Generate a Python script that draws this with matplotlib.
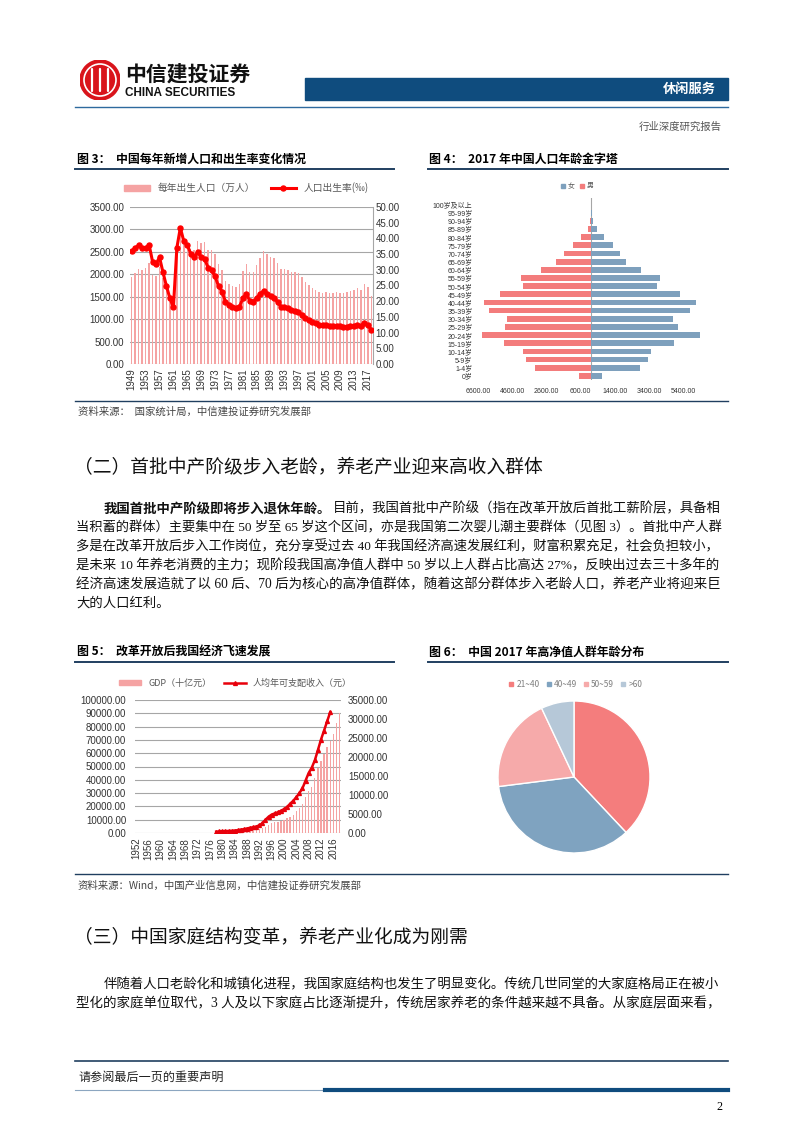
import numpy as np
import matplotlib
matplotlib.use('Agg')
import matplotlib.pyplot as plt
from matplotlib.patches import Rectangle, Circle, Patch
from matplotlib.lines import Line2D

W, H = 802, 1133
SANS = ['Noto Sans CJK SC', 'DejaVu Sans']
BODY = ['Liberation Serif', 'Noto Sans CJK SC', 'DejaVu Sans']
TICK = ['Liberation Sans', 'Noto Sans CJK SC', 'DejaVu Sans']
plt.rcParams['font.family'] = SANS
plt.rcParams['axes.unicode_minus'] = False

# Fig 3: births per year (万人) and birth rate (‰)
birth_years = list(range(1949, 2019))
births = [1950, 2023, 2107, 2105, 2151, 2245, 1984, 1961, 2167, 1908,
          1650, 1392, 1190, 2451, 2934, 2721, 2679, 2554, 2543, 2731,
          2690, 2710, 2551, 2550, 2447, 2226, 2102, 1849, 1783, 1733,
          1715, 1776, 2064, 2230, 2052, 2050, 2196, 2374, 2508, 2445,
          2396, 2374, 2250, 2113, 2120, 2098, 2052, 2057, 2028, 1934,
          1827, 1765, 1696, 1641, 1594, 1588, 1612, 1581, 1591, 1604,
          1587, 1588, 1600, 1635, 1640, 1687, 1655, 1786, 1723, 1523]
birth_rate = [36.0, 37.0, 37.8, 37.0, 37.0, 38.0, 32.6, 31.9, 34.0, 29.2,
              24.8, 20.9, 18.0, 37.0, 43.4, 39.1, 37.9, 35.1, 34.0, 35.6,
              34.1, 33.4, 30.7, 29.8, 27.9, 24.8, 23.0, 19.9, 18.9, 18.3,
              17.8, 18.2, 20.9, 22.3, 20.2, 19.9, 21.0, 22.4, 23.3, 22.4,
              21.6, 21.1, 19.7, 18.2, 18.1, 17.7, 17.1, 17.0, 16.6, 15.6,
              14.6, 14.0, 13.4, 12.9, 12.4, 12.3, 12.4, 12.1, 12.1, 12.1,
              12.0, 11.9, 11.9, 12.1, 12.1, 12.4, 12.1, 13.0, 12.4, 10.9]

# Fig 4: 2017 population pyramid, top to bottom
age_groups = ['100岁及以上', '95-99岁', '90-94岁', '85-89岁', '80-84岁', '75-79岁',
              '70-74岁', '65-69岁', '60-64岁', '55-59岁', '50-54岁', '45-49岁',
              '40-44岁', '35-39岁', '30-34岁', '25-29岁', '20-24岁', '15-19岁',
              '10-14岁', '5-9岁', '1-4岁', '0岁']
male = [10, 20, 70, 170, 560, 1040, 1570, 2020, 2900, 4070, 3970,
        5290, 6270, 5960, 4880, 5000, 6350, 5100, 3970, 3810, 3290, 690]
female = [10, 50, 110, 360, 770, 1260, 1690, 2040, 2920, 4030, 3830,
          5200, 6130, 5780, 4810, 5060, 6370, 4830, 3500, 3310, 2860, 670]
pyr_ticks = [-6600, -4600, -2600, -600, 1400, 3400, 5400]

# Fig 5: GDP (十亿元) and urban disposable income per capita (元)
gdp_years = list(range(1952, 2019))
gdp = [67.9, 82.4, 85.9, 91.0, 102.8, 106.8, 130.7, 143.9, 145.7, 122.0,
       114.9, 123.3, 145.4, 171.6, 186.8, 177.4, 172.3, 193.8, 225.3, 242.6,
       251.8, 272.1, 279.0, 299.7, 294.4, 320.2, 367.9, 410.0, 458.8, 493.6,
       537.3, 602.0, 727.9, 901.6, 1027.5, 1205.9, 1504.3, 1699.2, 1887.3, 2200.6,
       2719.5, 3567.3, 4863.8, 6133.9, 7181.4, 7971.5, 8519.5, 9056.4, 10028.0, 11086.3,
       12171.7, 13742.2, 16184.0, 18731.9, 21943.8, 27023.2, 31951.5, 34908.1, 41303.0, 48930.1,
       54036.7, 59524.4, 64397.4, 68905.2, 74358.6, 82712.2, 90030.9]
income_years = list(range(1978, 2016))
income = [343.4, 405.0, 477.6, 500.4, 535.3, 564.6, 652.1, 739.1, 900.9, 1002.1,
          1180.2, 1373.9, 1510.2, 1700.6, 2026.6, 2577.4, 3496.2, 4283.0, 4838.9, 5160.3,
          5425.1, 5854.0, 6280.0, 6859.6, 7702.8, 8472.2, 9421.6, 10493.0, 11759.5, 13785.8,
          15780.8, 17174.7, 19109.4, 21809.8, 24564.7, 26955.1, 29381.0, 31790.3]

# Fig 6: age split of high net worth individuals (%)
pie_labels = ['21~40', '40~49', '50~59', '>60']
pie_shares = [38, 35, 20, 7]
pie_colors = ['#f47d7d', '#7fa3c0', '#f6aaaa', '#b6c8d8']

para2 = [
    [('我国首批中产阶级即将步入退休年龄。', 'bold'),
     ('目前，我国首批中产阶级（指在改革开放后首批工薪阶层，具备相', 'normal')],
    [('当积蓄的群体）主要集中在 50 岁至 65 岁这个区间，亦是我国第二次婴儿潮主要群体（见图 3）。首批中产人群', 'normal')],
    [('多是在改革开放后步入工作岗位，充分享受过去 40 年我国经济高速发展红利，财富积累充足，社会负担较小，', 'normal')],
    [('是未来 10 年养老消费的主力；现阶段我国高净值人群中 50 岁以上人群占比高达 27%，反映出过去三十多年的', 'normal')],
    [('经济高速发展造就了以 60 后、70 后为核心的高净值群体，随着这部分群体步入老龄人口，养老产业将迎来巨', 'normal')],
    [('大的人口红利。', 'normal')],
]
para3 = [
    [('伴随着人口老龄化和城镇化进程，我国家庭结构也发生了明显变化。传统几世同堂的大家庭格局正在被小', 'normal')],
    [('型化的家庭单位取代，3 人及以下家庭占比逐渐提升，传统居家养老的条件越来越不具备。从家庭层面来看，', 'normal')],
]

NAVY = '#0f4c7e'
LINE = '#203f60'
GRID = '#a6a6a6'

fig = plt.figure(figsize=(W / 100, H / 100), dpi=100)
fig.patch.set_facecolor('white')
renderer = fig.canvas.get_renderer()


def px_axes(x0, y0, x1, y1):
    return fig.add_axes([x0 / W, 1 - y1 / H, (x1 - x0) / W, (y1 - y0) / H])


def ptext(x, y, s, **kw):
    kw.setdefault('va', 'center')
    return fig.text(x / W, 1 - y / H, s, **kw)


def hline(x0, x1, y, color=LINE, lw=1.0):
    fig.add_artist(Line2D([x0 / W, x1 / W], [1 - y / H] * 2, color=color, lw=lw))


def fit_line(parts, x0, x1, y, size, justify=True):
    # draw one line of body text, stretched to the column width
    texts = [ptext(x0, y, s, fontsize=size, fontweight=wt, family=BODY, color='#111111')
             for s, wt in parts]
    widths = [t.get_window_extent(renderer).width for t in texts]
    k = (x1 - x0) / sum(widths) if justify else 1.0
    x = x0
    for t, w in zip(texts, widths):
        t.set_fontsize(size * k)
        t.set_x(x / W)
        x += w * k


def style_ax(ax, labelsize=7):
    for s in ax.spines.values():
        s.set_visible(False)
    ax.tick_params(length=0, labelsize=labelsize, colors='#333333')
    for lab in ax.get_xticklabels() + ax.get_yticklabels():
        lab.set_family(TICK)


# ---- page header ----
logo = px_axes(80, 60, 120, 100)
logo.set_xlim(-1, 1)
logo.set_ylim(-1, 1)
logo.set_aspect('equal')
logo.axis('off')
logo.add_patch(Circle((0, 0), 1, color='#d9141b'))
logo.add_patch(Circle((0, 0), 0.8, fill=False, ec='white', lw=1.2))
for xs in (-0.4, 0, 0.4):
    logo.plot([xs, xs], [-0.55, 0.55], color='white', lw=1.6, solid_capstyle='round')

ptext(125, 74, '中信建投证券', fontsize=15, fontweight='bold', color='#111111')
ptext(125, 93, 'CHINA SECURITIES', fontsize=8.5, fontweight='bold', family=TICK, color='#111111')
fig.add_artist(Rectangle((305 / W, 1 - 100 / H), 423 / W, 22 / H, color=NAVY,
                         transform=fig.transFigure))
ptext(716, 89, '休闲服务', color='white', fontsize=9.5, fontweight='bold', ha='right')
hline(75, 728, 107, color='#2e6a9e', lw=1)
ptext(722, 127, '行业深度研究报告', fontsize=7.5, color='#555555', ha='right')

# ---- figure titles ----
ptext(77, 159, '图 3：  中国每年新增人口和出生率变化情况', fontsize=8.6, fontweight='bold')
ptext(429, 159, '图 4：  2017 年中国人口年龄金字塔', fontsize=8.6, fontweight='bold')
hline(75, 394, 169, lw=1.4)
hline(428, 728, 169, lw=1.4)

# ---- Fig 3 ----
ax1 = px_axes(130, 207, 373, 364)
xb = np.arange(len(birth_years))
ax1.bar(xb, births, width=0.42, color='#f5a3a3', zorder=2)
ax1.set_xlim(-0.5, len(xb) - 0.5)
ax1.set_ylim(0, 3500)
ax1.set_yticks(np.arange(0, 3501, 500))
ax1.set_yticklabels([f'{v:.2f}' for v in np.arange(0, 3501, 500)])
ax1.set_xticks(xb[::4])
ax1.set_xticklabels(birth_years[::4], rotation=90)
ax1.grid(axis='y', color=GRID, lw=0.8)
ax1.set_axisbelow(True)
style_ax(ax1)
ax1b = ax1.twinx()
ax1b.plot(xb, birth_rate, color='#ff0000', lw=2.2, marker='o', ms=3.6, zorder=3)
ax1b.set_ylim(0, 50)
ax1b.set_yticks(np.arange(0, 51, 5))
ax1b.set_yticklabels([f'{v:.2f}' for v in np.arange(0, 51, 5)])
style_ax(ax1b)
ax1b.spines['right'].set_visible(True)
ax1b.spines['right'].set_color(GRID)
ax1.tick_params(axis='y', pad=4)
ax1b.tick_params(axis='y', pad=2)
ax1.tick_params(axis='x', pad=3)
ax1.legend(handles=[Patch(color='#f5a3a3', label='每年出生人口（万人）'),
                    Line2D([], [], color='#ff0000', lw=2.2, marker='o', ms=3.6, label='人口出生率(‰)')],
           loc='center', bbox_to_anchor=(0.48, 1 + 19 / 157), ncol=2, frameon=False,
           fontsize=7, labelcolor='#595959', handlelength=2.6, handleheight=0.5, columnspacing=1.6)

# ---- Fig 4 ----
ax2 = px_axes(478, 198, 704, 380)
yp = np.arange(len(age_groups))[::-1]
ax2.barh(yp, [-m for m in male], height=0.7, color='#f37c7c', zorder=2)
ax2.barh(yp, female, height=0.7, color='#7ea0bd', zorder=2)
ax2.axvline(0, color=GRID, lw=0.8, zorder=1)
ax2.set_xlim(-6600, 6600)
ax2.set_ylim(-0.5, len(age_groups) - 0.2)
ax2.set_xticks(pyr_ticks)
ax2.set_xticklabels([f'{abs(v):.2f}' for v in pyr_ticks])
ax2.set_yticks(yp)
ax2.set_yticklabels(age_groups)
style_ax(ax2, labelsize=5)
ax2.tick_params(axis='y', pad=4)
ax2.tick_params(axis='x', pad=6)
ax2.legend(handles=[Line2D([], [], ls='', marker='s', ms=2.5, color='#7ea0bd', label='女'),
                    Line2D([], [], ls='', marker='s', ms=2.5, color='#f37c7c', label='男')],
           loc='center', bbox_to_anchor=(0.44, 1 + 12 / 182), ncol=2, frameon=False,
           fontsize=5, labelcolor='#595959', handlelength=0.6, handletextpad=0.3, columnspacing=0.8)

# ---- source + section 2 ----
hline(75, 728, 401, lw=1)
ptext(78, 412, '资料来源：  国家统计局，中信建投证券研究发展部', fontsize=7.5, color='#444444')
ptext(74, 468, '（二）首批中产阶级步入老龄，养老产业迎来高收入群体', fontsize=13.5, color='#111111')
for i, parts in enumerate(para2):
    fit_line(parts, 104 if i == 0 else 76, 723, 509 + i * 18.9, 9.6, justify=i < len(para2) - 1)

# ---- Fig 5 / Fig 6 titles ----
ptext(77, 652, '图 5：  改革开放后我国经济飞速发展', fontsize=8.6, fontweight='bold')
ptext(429, 652, '图 6：  中国 2017 年高净值人群年龄分布', fontsize=8.6, fontweight='bold')
hline(75, 394, 662, lw=1.4)
hline(428, 728, 662, lw=1.4)

# ---- Fig 5 ----
ax3 = px_axes(134.5, 700, 341, 833)
xg = np.arange(len(gdp_years))
ax3.bar(xg, gdp, width=0.45, color='#f5a3a3', zorder=2)
ax3.set_xlim(-0.5, len(xg) - 0.5)
ax3.set_ylim(0, 100000)
ax3.set_yticks(np.arange(0, 100001, 10000))
ax3.set_yticklabels([f'{v:.2f}' for v in np.arange(0, 100001, 10000)])
ax3.set_xticks(xg[::4])
ax3.set_xticklabels(gdp_years[::4], rotation=90)
ax3.grid(axis='y', color=GRID, lw=0.8)
ax3.set_axisbelow(True)
style_ax(ax3)
ax3.tick_params(axis='y', pad=6)
ax3b = ax3.twinx()
xi = [gdp_years.index(y) for y in income_years]
ax3b.plot(xi, income, color='#e8000b', lw=1.8, marker='^', ms=2.8, zorder=3)
ax3b.set_ylim(0, 35000)
ax3b.set_yticks(np.arange(0, 35001, 5000))
ax3b.set_yticklabels([f'{v:.2f}' for v in np.arange(0, 35001, 5000)])
style_ax(ax3b)
ax3b.tick_params(axis='y', pad=5)
ax3.legend(handles=[Patch(color='#f5a3a3', label='GDP（十亿元）'),
                    Line2D([], [], color='#e8000b', lw=1.8, marker='^', ms=2.8, label='人均年可支配收入（元）')],
           loc='center', bbox_to_anchor=(0.49, 1 + 17 / 133), ncol=2, frameon=False,
           fontsize=6.5, labelcolor='#595959', handlelength=2.4, handleheight=0.5, columnspacing=1.4)

# ---- Fig 6 ----
ax4 = px_axes(498, 701, 650, 853)
ax4.pie(pie_shares, colors=pie_colors, startangle=90, counterclock=False,
        wedgeprops=dict(edgecolor='white', lw=1))
ax4.set_xlim(-1, 1)
ax4.set_ylim(-1, 1)
ax4.set_aspect('equal')
ax4.legend(handles=[Line2D([], [], ls='', marker='s', ms=3, color=c, label=l)
                    for c, l in zip(pie_colors, pie_labels)],
           loc='center', bbox_to_anchor=(0.51, 1 + 17 / 152), ncol=4, frameon=False,
           fontsize=6, labelcolor='#7f7f7f', handlelength=0.6, handletextpad=0.3, columnspacing=0.8)

# ---- source + section 3 ----
hline(75, 728, 874, lw=1)
ptext(78, 885, '资料来源：Wind，中国产业信息网，中信建投证券研究发展部', fontsize=7.5, color='#444444')
ptext(74, 938, '（三）中国家庭结构变革，养老产业化成为刚需', fontsize=13.5, color='#111111')
for i, parts in enumerate(para3):
    fit_line(parts, 104 if i == 0 else 76, 723, 985 + i * 19, 9.6)

# ---- footer ----
hline(75, 728, 1061, lw=1.2)
ptext(78, 1077, '请参阅最后一页的重要声明', fontsize=8.7, color='#222222')
hline(75, 325, 1090, color='#8ca6c0', lw=0.8)
hline(325, 728, 1090, color=NAVY, lw=3)
ptext(722, 1107, '2', fontsize=8.7, ha='right', family=BODY)

fig.savefig('out.png', dpi=100)
